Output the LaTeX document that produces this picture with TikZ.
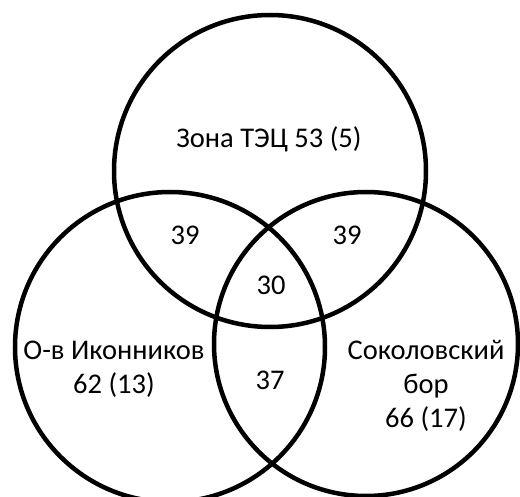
\documentclass[tikz,border=0pt]{standalone}
\usepackage{fontspec}
\setmainfont{Carlito}
\begin{document}
\begin{tikzpicture}[x=1pt,y=-1pt,
  ring/.style={draw=black,line width=4.5pt},
  lbl/.style={font=\fontsize{28.5}{34.5}\selectfont,align=center,inner sep=0pt,anchor=base}]
\useasboundingbox[fill=white] (0,0) rectangle (520,497);
% the three sets
\draw[ring] (270,171) circle[radius=156];
\draw[ring] (170,347) circle[radius=155];
\draw[ring] (366,344) circle[radius=152];
% set names and counts (base anchor sits on the last line)
\node[lbl] (tec) at (269,148) {Зона ТЭЦ 53 (5)};
\node[lbl] (ikon) at (114,394) {О-в Иконников\\62 (13)};
\node[lbl] (sokol) at (426,428) {Соколовский\\бор\\66 (17)};
% overlaps
\node[lbl] (tl) at (185,245) {39};
\node[lbl] (tr) at (347,245) {39};
\node[lbl] (mid) at (271,295) {30};
\node[lbl] (bot) at (270,389) {37};
\end{tikzpicture}
\end{document}
